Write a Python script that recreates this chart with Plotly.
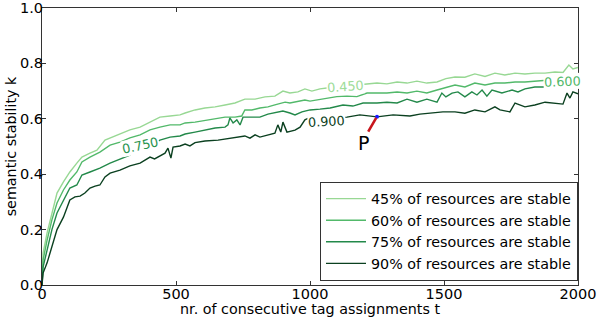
import plotly.graph_objects as go

# ---- data ----
x45 = [0, 4, 19, 37, 56, 80, 104, 130, 149, 179, 205, 235, 254, 291, 328, 366, 403, 440, 478, 515,
       534, 571, 608, 646, 683, 720, 757, 795, 832, 869, 899, 925, 955, 981, 1007, 1037, 1070, 1100, 1135, 1170,
       1205, 1250, 1287, 1325, 1362, 1399, 1436, 1474, 1507, 1541, 1578, 1615, 1653, 1690, 1727, 1765, 1802, 1839, 1877, 1914,
       1944, 1966, 1981, 2000]
y45 = [0, .115, .188, .264, .332, .372, .408, .44, .462, .476, .487, .523, .531, .545, .56, .57, .588, .606, .61, .614,
       .621, .632, .639, .643, .65, .657, .671, .671, .679, .682, .70, .693, .697, .708, .70, .708, .712, .715, .718, .722,
       .726, .729, .726, .733, .729, .736, .729, .733, .745, .751, .75, .762, .753, .765, .758, .765, .762, .765, .765, .769,
       .767, .794, .78, .785]

x60 = [0, 4, 19, 37, 56, 80, 104, 130, 149, 179, 216, 254, 291, 328, 366, 403, 440, 478, 515, 534,
       571, 608, 646, 683, 720, 745, 757, 783, 813, 843, 869, 895, 907, 925, 944, 981, 1000, 1049, 1100, 1138,
       1175, 1213, 1250, 1287, 1325, 1362, 1399, 1436, 1474, 1507, 1541, 1578, 1615, 1653, 1690, 1727, 1765, 1802, 1839, 1870,
       1910, 1950, 2000]
y60 = [0, .09, .162, .235, .296, .343, .379, .408, .444, .462, .48, .505, .516, .531, .542, .56, .57, .578, .578, .585,
       .588, .594, .60, .606, .606, .61, .632, .632, .639, .643, .65, .657, .66, .657, .66, .668, .664, .671, .68, .682,
       .68, .693, .693, .693, .697, .693, .70, .693, .704, .713, .722, .715, .729, .722, .729, .729, .733, .733, .736, .74,
       .742, .745, .748]

x75 = [0, 4, 19, 37, 56, 80, 104, 130, 149, 179, 216, 254, 291, 328, 366, 403, 440, 478, 515, 534,
       571, 608, 646, 683, 694, 701, 713, 727, 739, 750, 769, 813, 843, 869, 899, 925, 944, 970, 1000, 1037,
       1075, 1123, 1160, 1198, 1250, 1287, 1325, 1362, 1399, 1436, 1474, 1492, 1507, 1530, 1552, 1578, 1604, 1623, 1642, 1660,
       1679, 1716, 1754, 1776, 1802, 1839, 1877, 1925, 1963, 2000]
y75 = [0, .065, .126, .2, .26, .307, .35, .361, .397, .408, .422, .44, .455, .469, .495, .502, .523, .534, .538, .545,
       .552, .559, .567, .57, .578, .603, .585, .596, .578, .606, .606, .606, .617, .621, .628, .621, .614, .625, .632, .635,
       .639, .65, .646, .657, .657, .66, .657, .671, .66, .671, .66, .693, .679, .693, .697, .679, .697, .686, .704, .682,
       .704, .693, .704, .697, .708, .715, .715, .722, .729, .733]

x90 = [0, 4, 19, 37, 56, 80, 104, 123, 142, 160, 179, 198, 216, 235, 254, 291, 328, 366, 384, 403,
       420, 440, 459, 470, 481, 489, 515, 534, 552, 571, 608, 657, 701, 739, 757, 776, 795, 813, 851, 869,
       880, 891, 899, 914, 944, 963, 981, 993, 1007, 1019, 1050, 1090, 1138, 1186, 1250, 1310, 1373, 1410, 1448, 1496,
       1541, 1578, 1615, 1653, 1690, 1709, 1746, 1765, 1802, 1839, 1877, 1914, 1944, 1959, 1970, 1981, 2000]
y90 = [0, .043, .08, .137, .2, .245, .307, .318, .321, .332, .35, .357, .361, .39, .404, .415, .43, .44, .451, .462,
       .455, .466, .476, .494, .458, .498, .502, .509, .502, .514, .52, .523, .53, .534, .538, .53, .542, .534, .542, .548,
       .578, .552, .588, .552, .559, .57, .596, .602, .588, .598, .60, .603, .606, .614, .607, .614, .61, .617, .621, .625,
       .625, .62, .632, .625, .643, .632, .625, .657, .643, .65, .66, .657, .653, .693, .675, .697, .69]

series_names = ["45% of resources are stable", "60% of resources are stable",
                "75% of resources are stable", "90% of resources are stable"]
colors = ["#98d894", "#52b96a", "#23894a", "#0b4020"]

contour_labels = ["0.450", "0.600", "0.750", "0.900"]
label_x = [1131, 1944, 366, 1063]
label_y = [0.718, 0.736, 0.502, 0.592]
label_angle = [-4, -2, -12, -3]
label_colors = ["#9ddc98", "#4fb868", "#2a9450", "#0b4020"]

point_p = (1250, 0.607)
p_text_pos = (1198, 0.513)
p_arrow_tail = (1214, 0.548)

xticks = [0, 500, 1000, 1500, 2000]
yticks = [0.0, 0.2, 0.4, 0.6, 0.8, 1.0]

FONT = "DejaVu Sans"
FS = 14.3

fig = go.Figure()
for xs, ys, name, c in zip([x45, x60, x75, x90], [y45, y60, y75, y90], series_names, colors):
    fig.add_trace(go.Scatter(x=xs, y=ys, mode="lines", name=name,
                             line=dict(color=c, width=1.4)))

fig.add_trace(go.Scatter(x=[point_p[0]], y=[point_p[1]], mode="markers",
                         marker=dict(color="#1a1aff", size=4), showlegend=False))

annotations = []
for t, lx, ly, ang, c in zip(contour_labels, label_x, label_y, label_angle, label_colors):
    annotations.append(dict(x=lx, y=ly, xref="x", yref="y", text=t, showarrow=False,
                            textangle=ang, font=dict(family=FONT, size=12.8, color=c),
                            bgcolor="white", borderpad=0))
annotations.append(dict(x=point_p[0] - 3, y=point_p[1] - 0.004, xref="x", yref="y",
                        ax=p_arrow_tail[0], ay=p_arrow_tail[1], axref="x", ayref="y",
                        text="", showarrow=True, arrowhead=0, arrowwidth=2.6,
                        arrowcolor="#c8161d"))
annotations.append(dict(x=p_text_pos[0], y=p_text_pos[1], xref="x", yref="y", text="P",
                        showarrow=False, font=dict(family=FONT, size=19, color="black")))

fig.update_layout(
    width=598, height=317,
    margin=dict(l=42, r=20, t=8, b=32),
    paper_bgcolor="white", plot_bgcolor="white",
    font=dict(family=FONT, size=FS, color="black"),
    annotations=annotations,
    legend=dict(x=1, y=0.015, xanchor="right", yanchor="bottom",
                bgcolor="white", bordercolor="#333", borderwidth=1,
                font=dict(family=FONT, size=FS, color="black"),
                tracegroupgap=0, itemwidth=40),
    showlegend=True,
)
fig.update_xaxes(range=[0, 2000], tickvals=xticks, ticks="inside", ticklen=4, tickcolor="#333",
                 showline=True, linecolor="#333", linewidth=1, mirror="ticks",
                 showgrid=False, zeroline=False, tickfont=dict(size=14.5),
                 ticklabelstandoff=-4,
                 title=dict(text="nr. of consecutive tag assignments t", font=dict(size=FS), standoff=0),
                 automargin=False)
fig.update_yaxes(range=[0, 1], tickvals=yticks, tickformat=".1f", ticks="inside", ticklen=4, tickcolor="#333",
                 showline=True, linecolor="#333", linewidth=1, mirror="ticks",
                 showgrid=False, zeroline=False, tickfont=dict(size=14.5),
                 ticklabelstandoff=-5,
                 title=dict(text="semantic stability k", font=dict(size=FS), standoff=0),
                 automargin=False)

fig.write_html("out.html", config={"displayModeBar": False},
               post_script="document.body.style.margin='0';document.body.style.padding='0';")
